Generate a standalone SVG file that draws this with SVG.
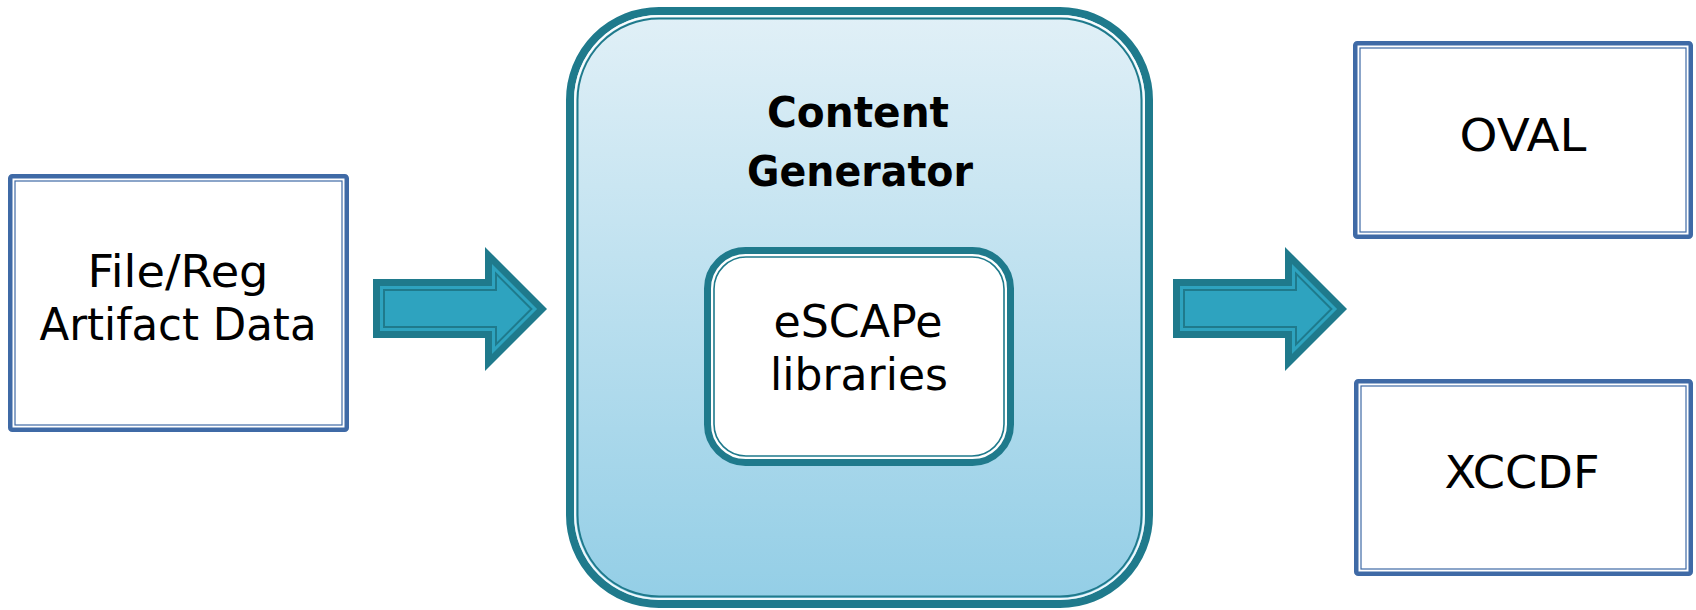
<svg xmlns="http://www.w3.org/2000/svg" width="1696" height="610" viewBox="0 0 1696 610">
  <style>
    .lbl { font-family: "DejaVu Sans", Verdana, sans-serif; font-size: 44px; fill: #000; text-anchor: middle; }
    .bold { font-weight: bold; font-size: 43px; }
    .boxo { fill: #fff; stroke: #3f6aa6; stroke-width: 4.5; }
    .boxi { fill: none; stroke: #3f6aa6; stroke-width: 1.2; }
    .dark { fill: #1f7a8c; }
    .light { fill: #2ea3bf; }
    .inl { fill: #2ea3bf; stroke: #1f7a8c; stroke-width: 2; }
  </style>
  <defs>
    <linearGradient id="bg" x1="0" y1="0" x2="0" y2="1">
      <stop offset="0" stop-color="#e1f0f7"/>
      <stop offset="1" stop-color="#93cee6"/>
    </linearGradient>
    <g id="arrowShape">
      <path class="dark" d="M373,279 H485 V247 L547,309 L485,371 V338 H373 Z"/>
      <path class="light" d="M380,286 H492 V263.9 L537.1,309 L492,354.1 V331 H380 Z"/>
      <path class="inl" d="M384,290 H496 V273.6 L531.4,309 L496,344.4 V327 H384 Z"/>
    </g>
  </defs>

  <g id="connectors">
    <use href="#arrowShape"/>
    <use href="#arrowShape" transform="translate(800,0)"/>
  </g>

  <g id="node-input">
    <rect class="boxo" x="10.25" y="176.25" width="336.5" height="253.5" rx="2"/>
    <rect class="boxi" x="15" y="181" width="327" height="244"/>
    <text class="lbl" x="178" y="287" textLength="181" lengthAdjust="spacingAndGlyphs">File/Reg</text>
    <text class="lbl" x="178" y="340" textLength="277" lengthAdjust="spacingAndGlyphs">Artifact Data</text>
  </g>

  <g id="node-generator">
    <rect x="570" y="11" width="579" height="593" rx="89" fill="url(#bg)" stroke="#1f7a8c" stroke-width="8"/>
    <rect x="575" y="16" width="569" height="583" rx="84" fill="none" stroke="#ffffff" stroke-width="2" opacity="0.85"/>
    <rect x="577.5" y="18.5" width="564" height="578" rx="81.5" fill="none" stroke="#1f7a8c" stroke-width="2"/>
    <text class="lbl bold" x="858" y="127" textLength="182" lengthAdjust="spacingAndGlyphs">Content</text>
    <text class="lbl bold" x="860" y="186" textLength="226" lengthAdjust="spacingAndGlyphs">Generator</text>
  </g>

  <g id="node-escape">
    <rect x="707.5" y="250.5" width="303" height="212" rx="38" fill="#fff" stroke="#1f7a8c" stroke-width="7"/>
    <rect x="714" y="257" width="290" height="199" rx="32" fill="none" stroke="#1f7a8c" stroke-width="1.6"/>
    <text class="lbl" x="858" y="337" textLength="169" lengthAdjust="spacingAndGlyphs">eSCAPe</text>
    <text class="lbl" x="859" y="390" textLength="178" lengthAdjust="spacingAndGlyphs">libraries</text>
  </g>

  <g id="node-oval">
    <rect class="boxo" x="1355.25" y="43.25" width="335.5" height="193.5" rx="2"/>
    <rect class="boxi" x="1360" y="48" width="326" height="184"/>
    <text class="lbl" x="1523" y="151" textLength="127" lengthAdjust="spacingAndGlyphs">OVAL</text>
  </g>

  <g id="node-xccdf">
    <rect class="boxo" x="1356.25" y="381.25" width="334.5" height="192.5" rx="2"/>
    <rect class="boxi" x="1361" y="386" width="325" height="183"/>
    <text class="lbl" x="1522" y="488" textLength="155" lengthAdjust="spacingAndGlyphs">XCCDF</text>
  </g>
</svg>
